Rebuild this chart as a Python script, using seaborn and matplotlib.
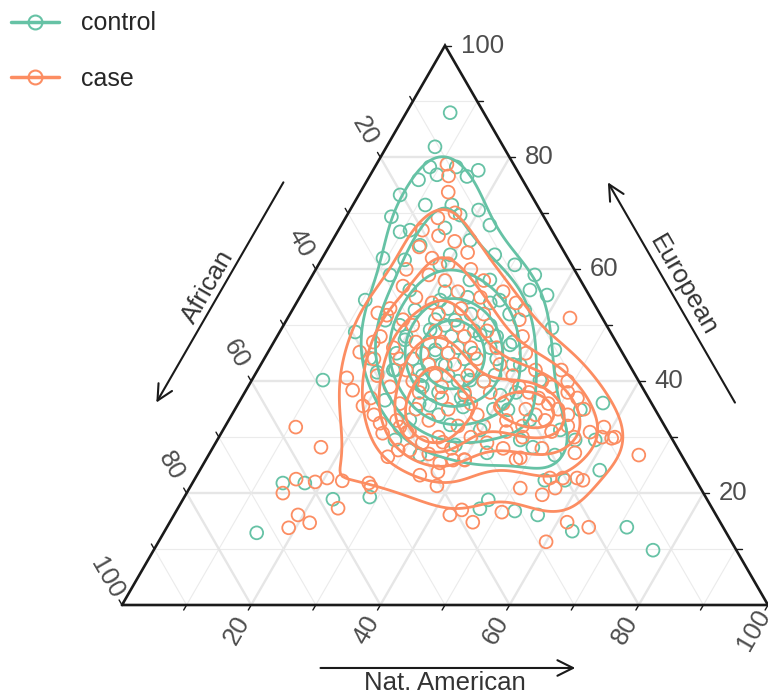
import numpy as np
import pandas as pd
import matplotlib
matplotlib.use("Agg")
import matplotlib.pyplot as plt
from matplotlib.lines import Line2D
import seaborn as sns

# Ancestry composition (%).
# European and Nat. American are stored, African is the remainder to 100.
control_eur = [88.0, 81.9, 78.3, 78.3, 77.7, 76.0, 76.9, 76.6, 73.3, 69.4, 71.5, 70.6, 67.0,
               62.0, 54.5, 48.8, 40.2, 44.1, 41.6, 21.8, 21.8, 18.9, 19.3, 12.9, 18.8, 17.2,
               16.8, 27.2, 34.9, 35.7, 35.4, 24.1, 22.3, 22.3, 16.1, 13.2, 13.9, 9.8, 36.1,
               28.2, 59.0, 55.4, 49.5, 45.6, 66.7, 64.3, 67.4, 65.2, 62.6, 60.8, 59.0, 56.3,
               54.5, 58.1, 54.5, 52.7, 50.9, 47.4, 49.2, 50.9, 48.3, 46.5, 42.0, 39.3, 42.9,
               40.2, 41.1, 42.9, 36.6, 33.1, 32.2, 31.3, 33.1, 31.3, 29.5, 26.8, 28.6, 29.5,
               26.8, 34.9, 29.5, 60.8, 69.7, 67.9, 71.5, 61.7, 40.2, 37.5, 37.5, 45.6, 52.7,
               58.1, 56.3, 62.6, 29.5,
               50, 48, 46, 44, 52, 50, 47, 45, 43, 41, 49, 51, 46, 44, 42, 40, 38, 39, 42, 44,
               48, 53, 55, 52, 47, 43, 40, 37, 36, 34, 35, 38, 54, 56, 50, 45, 42, 48, 41, 45]
control_nat = [6.8, 7.5, 8.5, 12.6, 16.3, 7.9, 10.3, 15.1, 6.4, 7.0, 15.3, 19.9, 11.1,
               9.4, 10.4, 11.7, 11.0, 16.3, 18.7, 14.0, 17.4, 23.2, 28.7, 14.4, 47.3, 46.8,
               52.4, 42.9, 42.3, 29.8, 35.1, 61.9, 54.3, 57.4, 56.3, 63.1, 71.2, 77.3, 56.4,
               49.5, 34.4, 38.1, 41.8, 44.2, 9.7, 14.0, 16.3, 21.3, 26.4, 30.4, 12.0, 16.4,
               22.0, 24.8, 31.2, 36.0, 15.3, 20.1, 23.1, 26.1, 31.3, 36.8, 21.3, 26.5, 28.6,
               33.8, 37.2, 40.2, 22.4, 28.0, 34.7, 39.8, 46.6, 52.2, 27.5, 32.7, 37.3, 46.9,
               53.6, 53.5, 55.4, 18.8, 17.5, 23.0, 11.2, 12.9, 44.6, 39.8, 34.3, 25.7, 19.0,
               27.9, 35.0, 19.5, 58.5,
               25, 27, 29, 31, 28, 32, 24, 26, 28, 30, 30, 23, 34, 36, 33, 32, 30, 27, 25, 23,
               20, 24, 26, 34, 37, 39, 36, 34, 28, 32, 40, 42, 30, 22, 18, 20, 21, 34, 26, 32]

case_eur = [78.8, 76.7, 73.8, 69.2, 70.1, 31.8, 28.2, 22.5, 22.0, 22.7, 22.2, 20.0, 17.3,
            16.1, 14.7, 13.8, 21.8, 21.1, 35.6, 32.5, 30.7, 26.5, 31.8, 30.9, 23.2, 23.8,
            21.3, 16.1, 17.0, 14.8, 16.6, 20.9, 29.1, 25.4, 25.9, 25.9, 26.3, 27.7, 27.7,
            26.8, 30.0, 31.8, 30.9, 27.2, 22.3, 22.7, 22.7, 22.7, 20.9, 19.7, 14.8, 13.9,
            11.3, 30.0, 51.3, 40.6, 38.4, 52.2, 51.8, 47.0, 45.2, 29.8,
            67, 66, 65, 64, 63, 62, 61, 60, 60, 59, 58, 58, 57, 56, 56, 55, 55, 54, 54, 53,
            53, 52, 52, 51, 51, 50, 50, 49, 49, 48, 48, 48, 47, 47, 46, 46, 46, 45, 45, 45,
            44, 44, 44, 43, 43, 43, 42, 42, 42, 41, 41, 41, 41, 40, 40, 40, 40, 39, 39, 39,
            39, 38, 38, 38, 38, 38, 37, 37, 37, 37, 36, 36, 36, 36, 35, 35, 35, 35, 35, 34,
            34, 34, 34, 33, 33, 33, 33, 32, 32, 32, 32, 31, 31, 31, 30, 30, 30, 30, 29, 29,
            28, 28, 28, 27, 26, 26]
case_nat = [10.9, 12.2, 13.6, 14.3, 16.5, 11.0, 16.7, 15.7, 18.9, 20.4, 23.0, 14.9, 24.8,
            19.2, 21.7, 18.9, 27.3, 28.0, 19.5, 23.7, 25.0, 27.9, 27.1, 28.7, 34.5, 37.0,
            38.1, 42.7, 44.1, 46.9, 50.5, 51.2, 35.1, 36.5, 38.3, 40.1, 48.5, 28.9, 30.7,
            66.6, 61.3, 58.7, 57.0, 56.5, 60.2, 59.1, 56.9, 54.9, 56.6, 55.2, 61.5, 65.3,
            60.0, 59.3, 43.7, 14.5, 16.5, 13.5, 15.1, 15.4, 14.2, 60.9,
            13, 16, 19, 14, 22, 17, 20, 14, 24, 18, 21, 27, 15, 24, 31, 18, 28, 21, 34, 15,
            26, 23, 30, 18, 36, 20, 27, 24, 32, 16, 29, 38, 22, 26, 19, 31, 35, 24, 28, 40,
            17, 21, 33, 26, 30, 37, 23, 43, 47, 19, 28, 33, 40, 25, 36, 45, 49, 22, 30, 42,
            47, 27, 34, 38, 44, 50, 20, 31, 46, 52, 25, 36, 41, 48, 28, 33, 45, 50, 54, 22,
            38, 47, 52, 26, 31, 43, 49, 36, 40, 46, 53, 29, 44, 51, 34, 39, 47, 55, 32, 42,
            37, 45, 51, 34, 40, 48]

groups = ["control", "case"]
group_colors = ["#66c2a5", "#fc8d62"]
group_levels = [[0.33, 0.5, 0.66, 0.8, 0.91], [0.25, 0.45, 0.62, 0.78, 0.9]]
tick_values = [20, 40, 60, 80, 100]

SQ = np.sqrt(3) / 2


def to_xy(afr, eur, nat):
    tot = afr + eur + nat
    return (nat + eur / 2) / tot, eur * SQ / tot


rows = []
for g, eur_list, nat_list in [("control", control_eur, control_nat), ("case", case_eur, case_nat)]:
    for e, n in zip(eur_list, nat_list):
        rows.append({"group": g, "European": e, "Nat. American": n, "African": 100 - e - n})
df = pd.DataFrame(rows)
df["x"], df["y"] = to_xy(df["African"], df["European"], df["Nat. American"])

sns.set_theme(style="white")
plt.rcParams["font.family"] = ["Liberation Sans", "DejaVu Sans"]

fig = plt.figure(figsize=(7.68, 6.95), dpi=100)
ax = fig.add_axes([0, 0, 1, 1])
ax.axis("off")

# grid lines of the ternary (minor every 10, major every 20)
for v in range(10, 100, 10):
    f = v / 100
    major = v % 20 == 0
    lw = 1.7 if major else 0.8
    col = "#e6e6e6" if major else "#ebebeb"
    segs = [
        (to_xy(1 - f, f, 0), to_xy(0, f, 1 - f)),   # European constant
        (to_xy(f, 1 - f, 0), to_xy(f, 0, 1 - f)),   # African constant
        (to_xy(1 - f, 0, f), to_xy(0, 1 - f, f)),   # Nat. American constant
    ]
    for (x0, y0), (x1, y1) in segs:
        ax.plot([x0, x1], [y0, y1], color=col, lw=lw, zorder=0, solid_capstyle="butt")

# points
for g, c in zip(groups, group_colors):
    sub = df[df["group"] == g]
    sns.scatterplot(x=sub["x"], y=sub["y"], ax=ax, s=85, marker="o",
                    facecolors="none", edgecolor=c, linewidth=1.3, zorder=2)

# density contours
for g, c, lev in zip(groups, group_colors, group_levels):
    sub = df[df["group"] == g]
    sns.kdeplot(x=sub["x"], y=sub["y"], ax=ax, color=c, bw_adjust=1.0,
                levels=lev, linewidths=2.0, zorder=3)

# triangle border
tri = [to_xy(1, 0, 0), to_xy(0, 0, 1), to_xy(0, 1, 0), to_xy(1, 0, 0)]
ax.plot([p[0] for p in tri], [p[1] for p in tri], color="#1a1a1a", lw=1.9, zorder=4,
        solid_joinstyle="miter")

# ticks and tick labels
tick_len = 0.009
tick_col = "#4d4d4d"
fs = 18.5
for v in range(10, 101, 10):
    f = v / 100
    # European (right edge)
    x0, y0 = to_xy(0, f, 1 - f)
    ax.plot([x0, x0 + tick_len], [y0, y0], color="#1a1a1a", lw=1, zorder=4)
    if v in tick_values:
        ax.text(x0 + 0.024, y0, str(v), ha="left", va="center", fontsize=fs, color=tick_col)
    # African (left edge)
    x0, y0 = to_xy(f, 1 - f, 0)
    d = np.array([-0.5, SQ])
    ax.plot([x0, x0 + d[0] * tick_len], [y0, y0 + d[1] * tick_len], color="#1a1a1a", lw=1, zorder=4)
    if v in tick_values:
        ax.text(x0 + d[0] * 0.048, y0 + d[1] * 0.048, str(v), ha="center", va="center",
                rotation=-60, fontsize=fs, color=tick_col)
    # Nat. American (bottom edge)
    x0, y0 = to_xy(1 - f, 0, f)
    d = np.array([-0.5, -SQ])
    ax.plot([x0, x0 + d[0] * tick_len], [y0, y0 + d[1] * tick_len], color="#1a1a1a", lw=1, zorder=4)
    if v in tick_values:
        ax.text(x0 + d[0] * 0.044, y0 + d[1] * 0.044, str(v), ha="center", va="center",
                rotation=60, fontsize=fs, color=tick_col)

# axis titles with arrows
title_col = "#333333"
arrow = dict(arrowstyle="->", lw=1.5, color="#1a1a1a", mutation_scale=28)
ax.annotate("", xy=(0.706, -0.0975), xytext=(0.303, -0.0975), arrowprops=arrow)
ax.text(0.5, -0.121, "Nat. American", ha="center", va="center", fontsize=fs, color=title_col)
ax.annotate("", xy=(0.750, 0.658), xytext=(0.951, 0.3096), arrowprops=arrow)
ax.text(0.868, 0.495, "European", ha="center", va="center", rotation=-60, fontsize=fs, color=title_col)
ax.annotate("", xy=(0.051, 0.3096), xytext=(0.252, 0.658), arrowprops=arrow)
ax.text(0.133, 0.492, "African", ha="center", va="center", rotation=60, fontsize=fs, color=title_col)

ax.set_xlim(-122 / 646, 1.0)
ax.set_ylim(-90 / 646, 605 / 646)
ax.set_aspect("equal")

handles = [Line2D([], [], color=c, lw=2.5, marker="o", markersize=10, markerfacecolor="none",
                  markeredgewidth=1.5) for c in group_colors]
fig.legend(handles, groups, loc="upper left", bbox_to_anchor=(0.0, 1.0), frameon=False,
           fontsize=18, labelspacing=1.25, handlelength=1.9, handletextpad=0.9,
           borderpad=0.25, borderaxespad=0.2)

fig.savefig("out.png", dpi=100)
